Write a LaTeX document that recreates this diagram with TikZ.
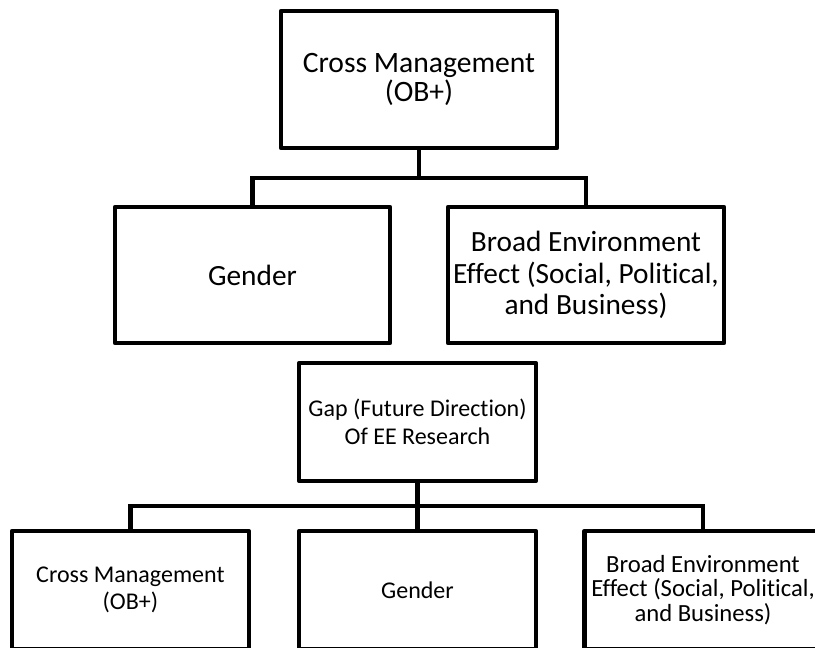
\documentclass[tikz,border=0pt]{standalone}
\usepackage{fontspec}
\setmainfont{Carlito}[Ligatures={NoCommon,NoRare}]
\begin{document}
\begin{tikzpicture}[x=0.75pt,y=-0.75pt,
  box/.style={draw=black,line width=3.3pt,line join=round,fill=white,
    align=center,inner sep=0pt,text=black},
  big/.style={box,minimum width=207pt,minimum height=102pt},
  small/.style={box,minimum width=177.5pt,minimum height=88.5pt},
  conn/.style={draw=black,line width=3.3pt,line join=miter}]
\useasboundingbox (0,0) rectangle (815,647);
\clip (0,0) rectangle (815,647);
\fill[white] (0,0) rectangle (815,647);

\node[big,minimum height=102.75pt,font=\fontsize{22.2}{21.75}\selectfont] (top) at (419,79.5)
  {Cross Management\\(OB+)};
\node[big,minimum width=206.25pt,font=\fontsize{22}{23.5}\selectfont] (gender) at (252.5,275)
  {Gender};
\node[big,font=\fontsize{22}{23.5}\selectfont] (broad) at (586,275)
  {Broad Environment\\Effect (Social, Political,\\and Business)};

\node[small,font=\fontsize{18}{20.8}\selectfont] (gap) at (417.5,422)
  {Gap (Future Direction)\\Of EE Research};

\node[small,font=\fontsize{18}{20}\selectfont] (b1) at (130.4,590)
  {Cross Management\\(OB+)};
\node[small,font=\fontsize{18}{20}\selectfont] (b2) at (417.5,590)
  {Gender};
\node[small,font=\fontsize{18.5}{18.6}\selectfont] (b3) at (703,590)
  {Broad Environment\\Effect (Social, Political,\\and Business)};

\coordinate (j1) at (419,178);
\coordinate (j2) at (417.5,506);

\draw[conn] (top.south) -- (j1);
\draw[conn] (gender.north) |- (j1) -| (broad.north);

\draw[conn] (gap.south) -- (b2.north);
\draw[conn] (b1.north) |- (j2) -| (b3.north);
\end{tikzpicture}
\end{document}
